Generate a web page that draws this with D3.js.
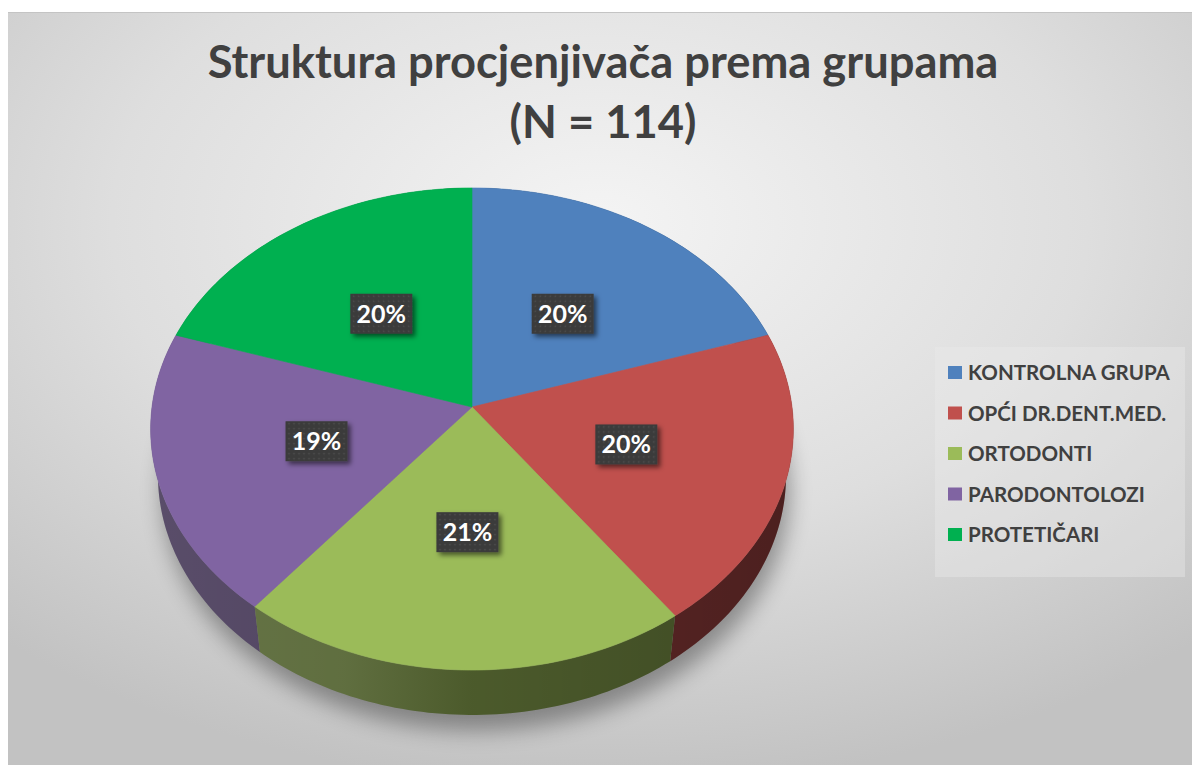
<!DOCTYPE html>
<meta charset="utf-8">
<style>
  body { margin: 0; background: #fff; }
  text { font-family: Lato, "Open Sans", sans-serif; }
</style>
<svg width="1192" height="765"></svg>
<script src="https://d3js.org/d3.v7.min.js"></script>
<script>
// data
const categories = ['KONTROLNA GRUPA', 'OPĆI DR.DENT.MED.', 'ORTODONTI', 'PARODONTOLOZI', 'PROTETIČARI'];
const counts = [23, 23, 24, 22, 23];
const labels = ['20%', '20%', '21%', '19%', '20%'];
const colors = ['#4f81bd', '#c0504d', '#9bbb59', '#8064a2', '#00b050'];
const titleLines = ['Struktura procjenjivača prema grupama', '(N = 114)'];

const W = 1192, H = 765;
const svg = d3.select('svg');
const defs = svg.append('defs');

// background
var bg = defs.append('radialGradient').attr('id', 'bg')
  .attr('cx', '50%').attr('cy', '28%').attr('r', '75%');
bg.append('stop').attr('offset', '0%').attr('stop-color', '#f4f4f4');
bg.append('stop').attr('offset', '55%').attr('stop-color', '#dedede');
bg.append('stop').attr('offset', '100%').attr('stop-color', '#c2c2c2');
svg.append('rect').attr('x', 8).attr('y', 12).attr('width', W - 8).attr('height', H - 12)
  .attr('fill', 'url(#bg)');
svg.append('line').attr('x1', 8).attr('x2', W).attr('y1', 12.5).attr('y2', 12.5)
  .attr('stroke', '#c4c4c4').attr('stroke-width', 1);

// 3d projection of the pie
const cx = 472, cy = 407, R = 320, T = 72, D = 2331;
const sa = 0.747, ca = 0.665;
function proj(theta, h, r) {
  r = r === undefined ? R : r;
  var x3 = r * Math.sin(theta), z3 = r * Math.cos(theta);
  var yc = z3 * sa + h * ca, zc = z3 * ca - h * sa;
  var f = D / (D + zc);
  return [cx + x3 * f, cy - yc * f];
}
function arcPts(a0, a1, h) {
  var n = Math.max(2, Math.ceil((a1 - a0) / 0.02));
  return d3.range(n + 1).map(i => proj(a0 + (a1 - a0) * i / n, h));
}

const arcs = d3.pie().sort(null).value(d => d)(counts);

// shadow under pie
var sh = defs.append('filter').attr('id', 'pieShadow')
  .attr('x', '-20%').attr('y', '-20%').attr('width', '140%').attr('height', '140%');
sh.append('feGaussianBlur').attr('stdDeviation', 11);
var bottomRing = arcPts(0, 2 * Math.PI, -T - 6).map(p => [p[0] + 4, p[1] + 12]);
svg.append('path').attr('d', d3.line()(bottomRing) + 'Z')
  .attr('fill', '#000').attr('opacity', 0.35).attr('filter', 'url(#pieShadow)');

// side walls, back to front
var wallGrad = defs.append('linearGradient').attr('id', 'wallShade')
  .attr('gradientUnits', 'userSpaceOnUse')
  .attr('x1', cx - R).attr('x2', cx + R).attr('y1', 0).attr('y2', 0);
wallGrad.append('stop').attr('offset', '0%').attr('stop-color', '#fff').attr('stop-opacity', 0.12);
wallGrad.append('stop').attr('offset', '30%').attr('stop-color', '#fff').attr('stop-opacity', 0.08);
wallGrad.append('stop').attr('offset', '50%').attr('stop-color', '#000').attr('stop-opacity', 0.08);
wallGrad.append('stop').attr('offset', '100%').attr('stop-color', '#000').attr('stop-opacity', 0.25);

var walls = svg.append('g');
arcs.slice().sort((a, b) => Math.cos((b.startAngle + b.endAngle) / 2) - Math.cos((a.startAngle + a.endAngle) / 2))
  .forEach(a => {
    var top = arcPts(a.startAngle, a.endAngle, 0);
    var bot = arcPts(a.startAngle, a.endAngle, -T).reverse();
    var d = d3.line()(top.concat(bot)) + 'Z';
    walls.append('path').attr('d', d)
      .attr('fill', d3.color(colors[a.index]).darker(1.8));
    walls.append('path').attr('d', d).attr('fill', 'url(#wallShade)');
  });

// top faces
var topG = svg.append('g');
arcs.forEach(a => {
  var pts = [proj(0, 0, 0)].concat(arcPts(a.startAngle, a.endAngle, 0));
  topG.append('path').attr('d', d3.line()(pts) + 'Z')
    .attr('fill', colors[a.index])
    .attr('stroke', colors[a.index]).attr('stroke-width', 0.6);
});

// data labels
var pat = defs.append('pattern').attr('id', 'dots').attr('patternUnits', 'userSpaceOnUse')
  .attr('width', 5).attr('height', 5);
pat.append('rect').attr('width', 5).attr('height', 5).attr('fill', '#3b3b3b');
pat.append('circle').attr('cx', 2.5).attr('cy', 2.5).attr('r', 0.7).attr('fill', '#555');
var ls = defs.append('filter').attr('id', 'lblShadow')
  .attr('x', '-30%').attr('y', '-30%').attr('width', '170%').attr('height', '170%');
ls.append('feDropShadow').attr('dx', 3).attr('dy', 3).attr('stdDeviation', 2.5)
  .attr('flood-color', '#000').attr('flood-opacity', 0.55);

var lblG = svg.append('g');
arcs.forEach(a => {
  var p = proj((a.startAngle + a.endAngle) / 2, 0, 0.5 * R);
  var g = lblG.append('g').attr('transform', `translate(${p[0]},${p[1]})`);
  g.append('rect').attr('x', -31).attr('y', -20).attr('width', 62).attr('height', 40)
    .attr('fill', 'url(#dots)').attr('filter', 'url(#lblShadow)');
  g.append('text').attr('text-anchor', 'middle').attr('y', 9)
    .attr('fill', '#fff').attr('font-weight', 700).attr('font-size', 25)
    .text(labels[a.index]);
});

// legend
var legend = svg.append('g');
legend.append('rect').attr('x', 935).attr('y', 347).attr('width', 250).attr('height', 230)
  .attr('fill', '#ececec').attr('opacity', 0.4);
var rowY = d3.scalePoint().domain(categories).range([373, 535]);
categories.forEach((c, i) => {
  legend.append('rect').attr('x', 948).attr('y', rowY(c) - 7).attr('width', 14).attr('height', 13)
    .attr('fill', colors[i]);
  legend.append('text').attr('class', 'leg').attr('x', 968).attr('y', rowY(c) + 7)
    .attr('fill', '#404040').attr('font-weight', 700).attr('font-size', 19)
    .text(c);
});
// fit legend font to the reference width
var lw = legend.select('.leg').node().getComputedTextLength();
legend.selectAll('.leg').attr('font-size', 19 * 202 / lw);

// title
var t1 = svg.append('text').attr('x', 603).attr('y', 78).attr('text-anchor', 'middle')
  .attr('fill', '#404040').attr('font-weight', 700).attr('font-size', 42).text(titleLines[0]);
var tw = t1.node().getComputedTextLength();
var tfs = 42 * 791 / tw;
t1.attr('font-size', tfs);
svg.append('text').attr('x', 603).attr('y', 138).attr('text-anchor', 'middle')
  .attr('fill', '#404040').attr('font-weight', 700).attr('font-size', tfs).text(titleLines[1]);
</script>
